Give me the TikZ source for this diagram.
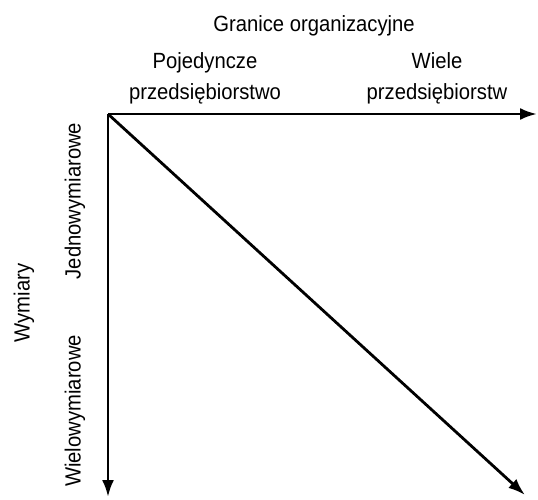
\documentclass[tikz,border=0pt]{standalone}
\usepackage{fontspec}
\setmainfont{Liberation Sans}[FakeStretch=0.92]
\usetikzlibrary{arrows.meta}
\begin{document}
\begin{tikzpicture}[x=1pt,y=-1pt,
  lbl/.style={inner sep=0pt,font=\fontsize{22}{26}\selectfont},
  axis/.style={line width=2.8pt,-{Latex[length=17pt,width=12pt]}}]
\useasboundingbox (0,0) rectangle (538,500);
\coordinate (o) at (108,114);
\coordinate (xe) at (537,114);
\coordinate (ye) at (108,497);
\coordinate (de) at (525,495);
\draw[axis] (o) -- (xe);
\draw[axis] (o) -- (ye);
\draw[axis] (o) -- (de);
\node[lbl,anchor=base] (title) at (314,32) {Granice organizacyjne};
\node[lbl,anchor=base] (p1) at (205,69) {Pojedyncze};
\node[lbl,anchor=base] (p2) at (205,100) {przedsiębiorstwo};
\node[lbl,anchor=base] (w1) at (437,69) {Wiele};
\node[lbl,anchor=base] (w2) at (437,100) {przedsiębiorstw};
\node[lbl,rotate=90] (wym) at (24,303) {Wymiary};
\node[lbl,rotate=90] (jed) at (75,201) {Jednowymiarowe};
\node[lbl,rotate=90] (wie) at (75,411) {Wielowymiarowe};
\end{tikzpicture}
\end{document}
